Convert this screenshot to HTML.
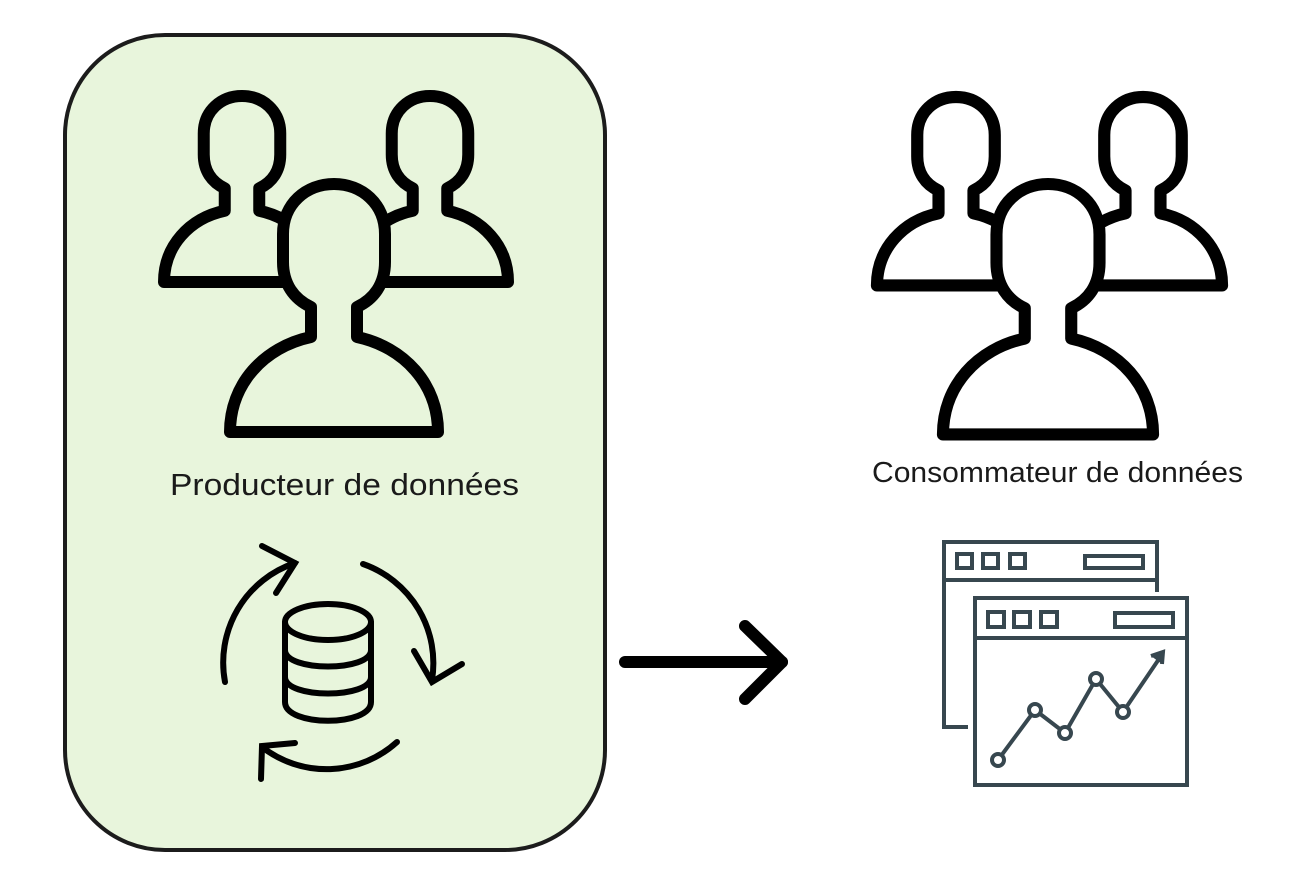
<!DOCTYPE html>
<html><head><meta charset="utf-8"><style>
html,body{margin:0;padding:0;background:#fff;}
svg{display:block;}
</style></head><body>
<svg width="1294" height="888" viewBox="0 0 1294 888" xmlns="http://www.w3.org/2000/svg">
<defs>
<path id="p" d="M -23 123 C -40 115 -51 100 -51 78 L -51 50 C -51 20 -28 0 0 0 C 28 0 51 20 51 50 L 51 78 C 51 100 40 115 23 123 L 23 153 C 70 163 104 200 104 248 L -104 248 C -104 200 -70 163 -23 153 Z" stroke-linejoin="round"/>
</defs>
<rect x="65" y="35" width="540" height="815" rx="100" ry="100" fill="#e8f5dc" stroke="#1c1c1c" stroke-width="4"/>

<g fill="#e8f5dc" stroke="#000">
<use href="#p" transform="translate(242,96) scale(0.75)" stroke-width="16"/>
<use href="#p" transform="translate(430,96) scale(0.75)" stroke-width="16"/>
<use href="#p" transform="translate(334,184)" stroke-width="12"/>
</g>
<g fill="#fff" stroke="#000">
<use href="#p" transform="translate(956,97) scale(0.76)" stroke-width="16"/>
<use href="#p" transform="translate(1143,97) scale(0.76)" stroke-width="16"/>
<use href="#p" transform="translate(1048,184) scale(1.01)" stroke-width="12"/>
</g>

<text x="170" y="495" font-family="Liberation Sans, sans-serif" font-size="31" fill="#1a1a1a" textLength="349" lengthAdjust="spacingAndGlyphs">Producteur de données</text>
<text x="872" y="482" font-family="Liberation Sans, sans-serif" font-size="29" fill="#1a1a1a" textLength="371" lengthAdjust="spacingAndGlyphs">Consommateur de données</text>

<g fill="none" stroke="#000" stroke-width="6" stroke-linecap="round">
<ellipse cx="328" cy="622" rx="43" ry="18"/>
<path d="M285 622 L285 702 C285 727 371 727 371 702 L371 622"/>
<path d="M285 650 C285 672 371 672 371 650"/>
<path d="M285 677 C285 699 371 699 371 677"/>
<path d="M225 682 A105 105 0 0 1 295 563"/>
<path d="M262 546 L295 563 L276 593"/>
<path d="M363 564 A105 105 0 0 1 432 680"/>
<path d="M414 651 L432 682 L462 664"/>
<path d="M397 742 A105 105 0 0 1 262 747"/>
<path d="M295 743 L262 746 L261 779"/>
</g>

<g fill="none" stroke="#000" stroke-width="12" stroke-linecap="round" stroke-linejoin="round">
<path d="M625 662 L782 662"/>
<path d="M745 626 L782 662 L745 699"/>
</g>

<g fill="none" stroke="#37474f" stroke-width="4">
<path d="M968 727 L944 727 L944 542 L1157 542 L1157 592"/>
<path d="M944 580 L1157 580"/>
<rect x="957" y="554" width="15" height="14"/>
<rect x="983" y="554" width="15" height="14"/>
<rect x="1010" y="554" width="15" height="14"/>
<rect x="1085" y="556" width="58" height="12"/>
<rect x="975" y="598" width="212" height="187" fill="#fff"/>
<path d="M975 638 L1187 638"/>
<rect x="988" y="612" width="16" height="15"/>
<rect x="1014" y="612" width="16" height="15"/>
<rect x="1041" y="612" width="16" height="15"/>
<rect x="1115" y="613" width="58" height="14"/>
<path d="M998 760 L1035 710 L1065 733 L1096 679 L1123 712 L1161 656"/>
<path d="M1151 656 L1163 652 L1162 664" fill="#37474f"/>
<circle cx="998" cy="760" r="6" fill="#fff"/>
<circle cx="1035" cy="710" r="6" fill="#fff"/>
<circle cx="1065" cy="733" r="6" fill="#fff"/>
<circle cx="1096" cy="679" r="6" fill="#fff"/>
<circle cx="1123" cy="712" r="6" fill="#fff"/>
</g>
</svg>
</body></html>
